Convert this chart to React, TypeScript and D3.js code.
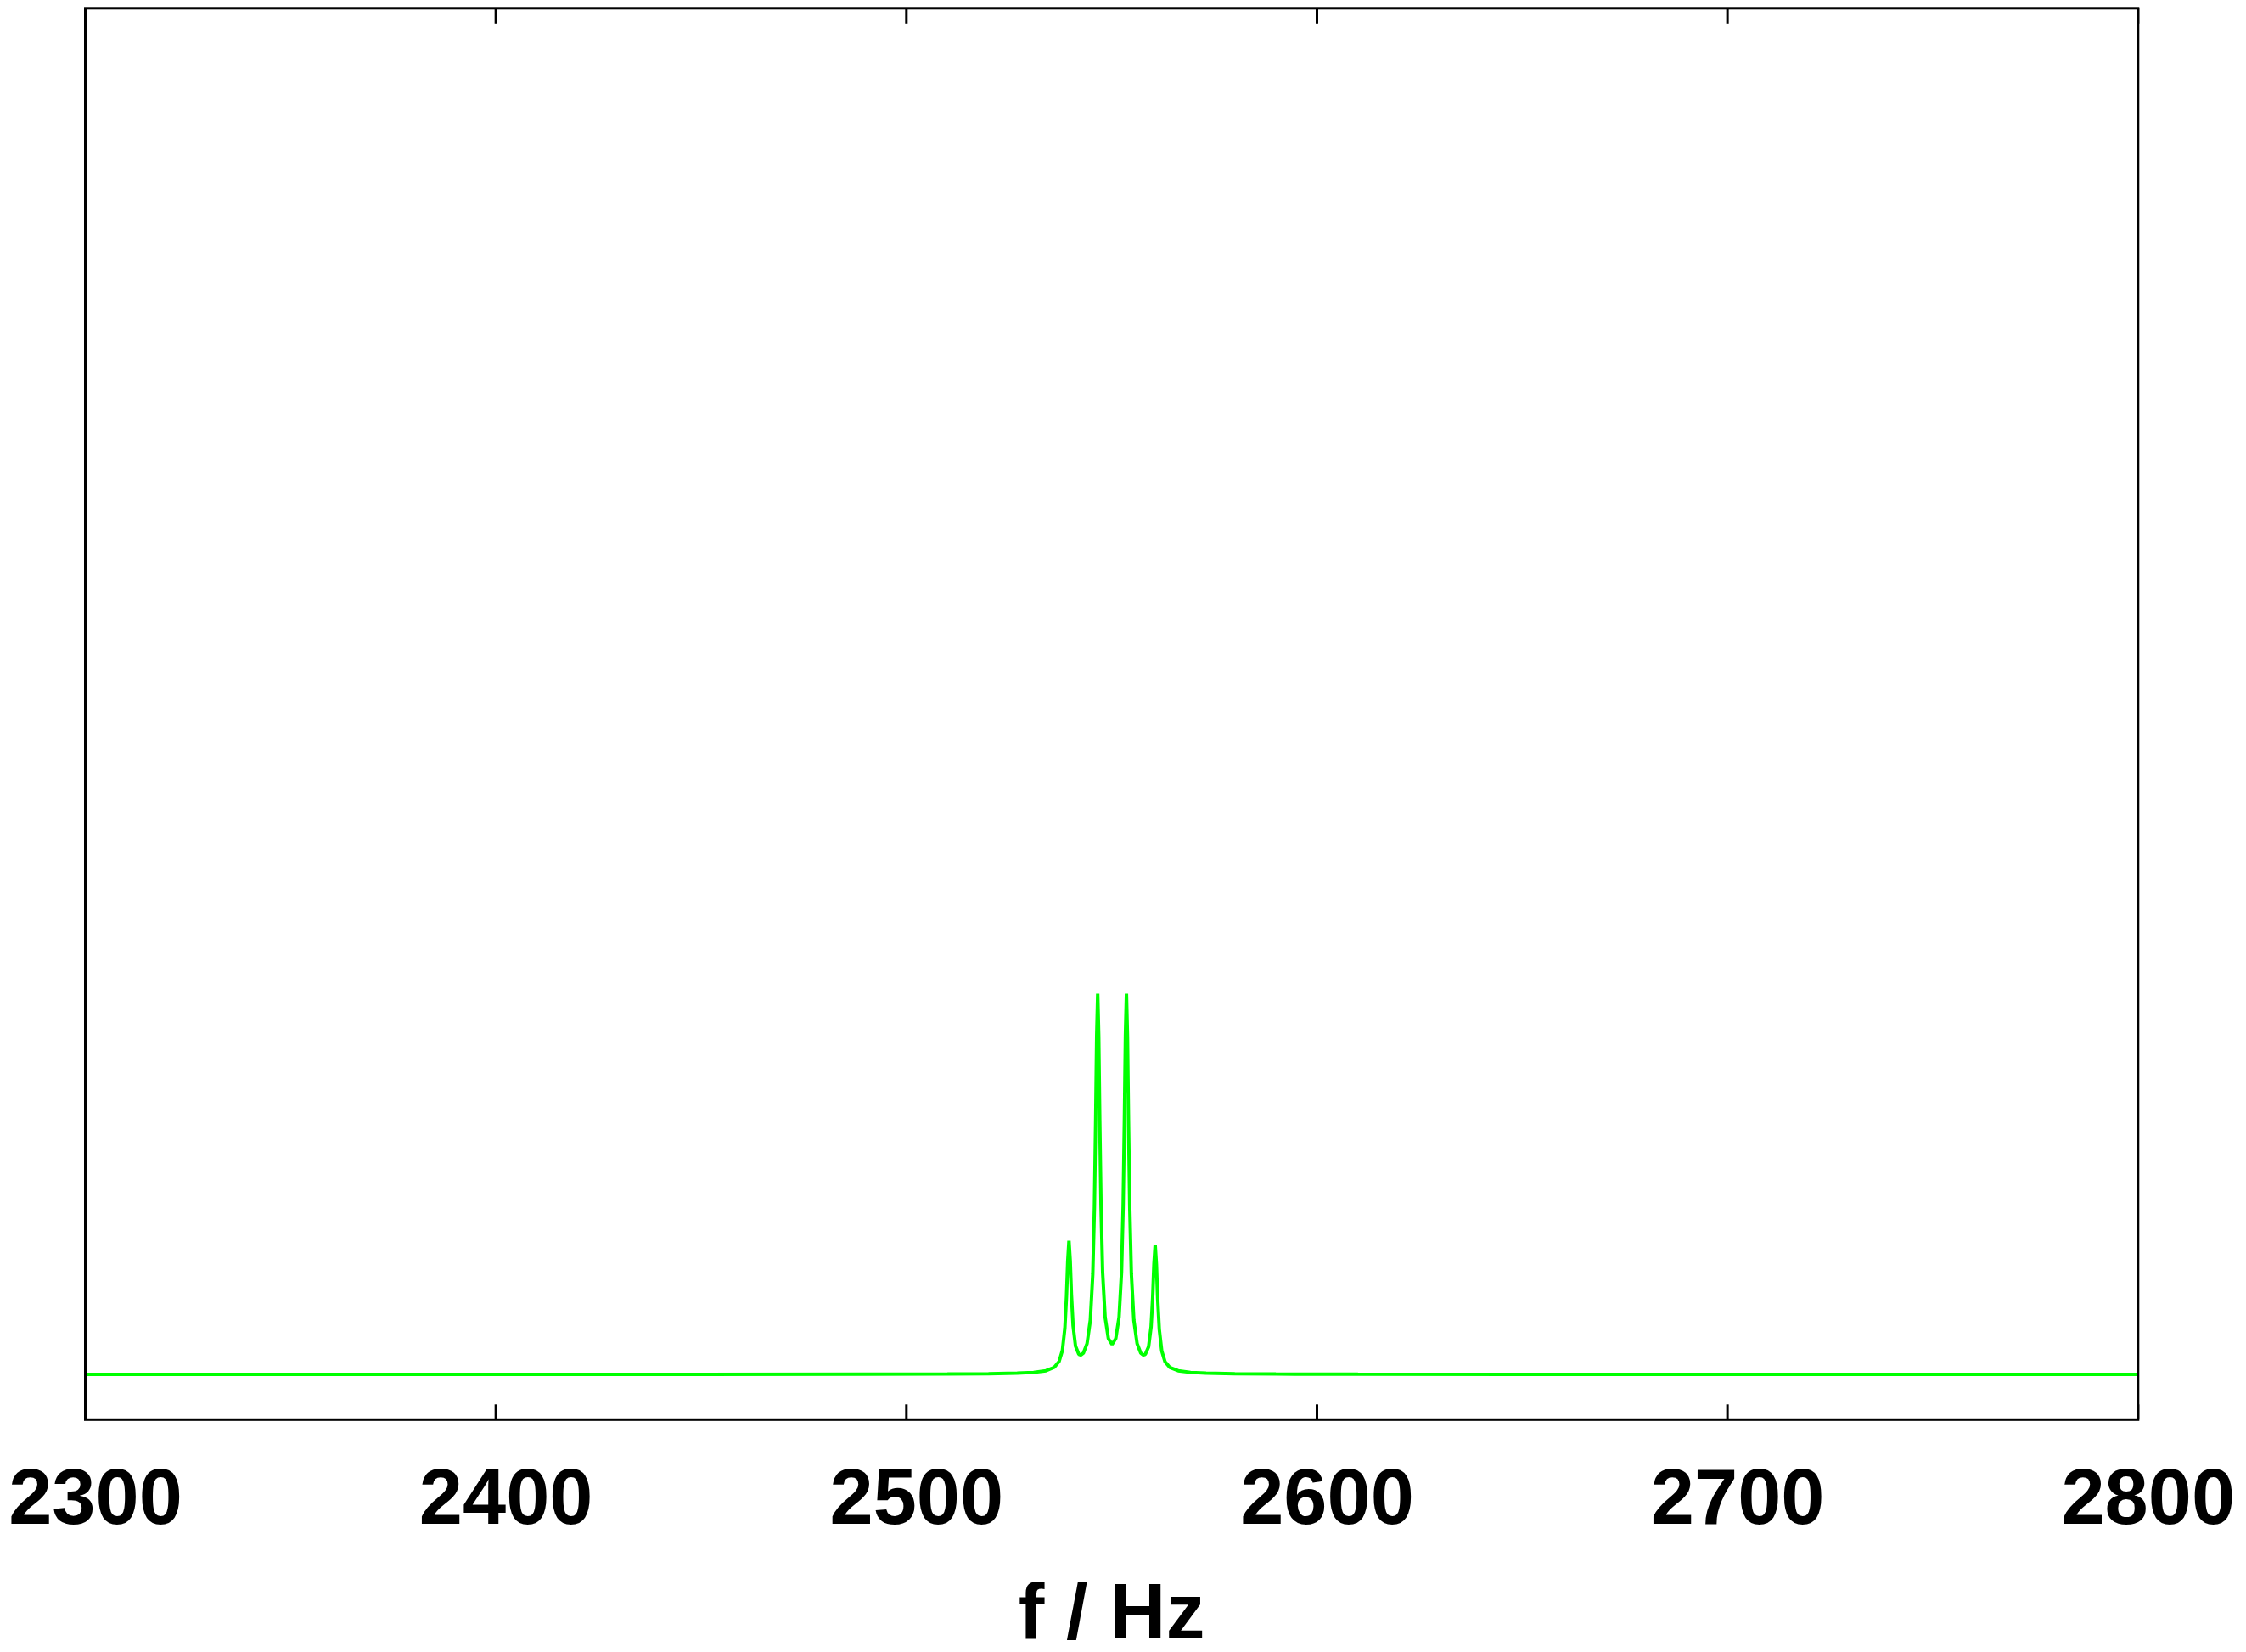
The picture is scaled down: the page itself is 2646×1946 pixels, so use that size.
import React from "react";
import * as d3 from "d3";

// Spectrum (frequency in Hz, intensity in arbitrary units)
const freqs: number[] = [
  2300, 2400, 2450, 2490, 2510, 2520, 2527, 2531, 2534, 2536, 2537.2, 2538.0, 2538.6, 2539.0, 2539.3,
  2539.6, 2539.9, 2540.2, 2540.6, 2541.2, 2542.0, 2542.5, 2543.1, 2544.0, 2544.8, 2545.4, 2545.8,
  2546.1, 2546.35, 2546.6, 2546.85, 2547.1, 2547.4, 2547.8, 2548.4, 2549.2, 2550.1, 2551.0, 2551.8,
  2552.4, 2552.8, 2553.1, 2553.35, 2553.6, 2553.85, 2554.1, 2554.4, 2554.8, 2555.4, 2556.2, 2557.1,
  2557.7, 2558.2, 2559.0, 2559.6, 2560.0, 2560.3, 2560.6, 2560.9, 2561.2, 2561.6, 2562.2, 2563.0,
  2564.2, 2566.2, 2569.2, 2573, 2580, 2590, 2610, 2650, 2700, 2800,
];
const intensity: number[] = [
  0, 0.0001, 0.0001, 0.0004, 0.0009, 0.0016, 0.0031, 0.0053, 0.0097, 0.0184, 0.034, 0.0631, 0.1212,
  0.2055, 0.2972, 0.3506, 0.2992, 0.2094, 0.1279, 0.0742, 0.0529, 0.0509, 0.0558, 0.0808, 0.1423,
  0.2629, 0.4404, 0.6652, 0.8871, 0.9989, 0.8881, 0.6671, 0.4436, 0.2678, 0.1502, 0.094, 0.0788,
  0.094, 0.1502, 0.2678, 0.4436, 0.6671, 0.8881, 0.9989, 0.8871, 0.6652, 0.4404, 0.2629, 0.1423,
  0.0808, 0.0558, 0.0509, 0.0529, 0.0727, 0.1246, 0.2036, 0.2906, 0.34, 0.2886, 0.1997, 0.1179,
  0.0615, 0.0332, 0.018, 0.0097, 0.0053, 0.0031, 0.0016, 0.0009, 0.0004, 0.0001, 0.0001, 0,
];
const xTicks: number[] = [2300, 2400, 2500, 2600, 2700, 2800];
const xLabel = "f / Hz";

const W = 2646;
const H = 1946;
const plotLeft = 100.5;
const plotRight = 2518.8;
const plotTop = 9.8;
const plotBottom = 1672.3;

export default function App() {
  const x = d3.scaleLinear().domain([2300, 2800]).range([plotLeft, plotRight]);
  const y = d3.scaleLinear().domain([-0.1187, 3.584]).range([plotBottom, plotTop]);
  const pts: [number, number][] = freqs.map((f, i) => [f, intensity[i]]);
  const line = d3
    .line<[number, number]>()
    .x((d) => x(d[0]))
    .y((d) => y(d[1]));
  const font = "'Liberation Sans', Arial, Helvetica, sans-serif";
  const tickLen = 18;
  return (
    <svg
      width={W}
      height={H}
      viewBox={`0 0 ${W} ${H}`}
      style={{ position: "absolute", left: 0, top: 0, background: "#fff" }}
    >
      <rect x={0} y={0} width={W} height={H} fill="#fff" />
      <path
        d={line(pts) || ""}
        fill="none"
        stroke="#00ff00"
        strokeWidth={4}
        strokeLinejoin="bevel"
      />
      {xTicks.map((t) => (
        <g key={t}>
          <line x1={x(t)} x2={x(t)} y1={plotBottom} y2={plotBottom - tickLen} stroke="#000" strokeWidth={3} />
          <line x1={x(t)} x2={x(t)} y1={plotTop} y2={plotTop + tickLen} stroke="#000" strokeWidth={3} />
          <text
            x={x(t) + 12}
            y={1795}
            textAnchor="middle"
            fontFamily={font}
            fontWeight="bold"
            fontSize={92}
            fill="#000"
          >
            {t}
          </text>
        </g>
      ))}
      <rect
        x={plotLeft}
        y={plotTop}
        width={plotRight - plotLeft}
        height={plotBottom - plotTop}
        fill="none"
        stroke="#000"
        strokeWidth={3}
      />
      <text
        x={(plotLeft + plotRight) / 2}
        y={1930}
        textAnchor="middle"
        fontFamily={font}
        fontWeight="bold"
        fontSize={92}
        fill="#000"
      >
        {xLabel}
      </text>
    </svg>
  );
}
